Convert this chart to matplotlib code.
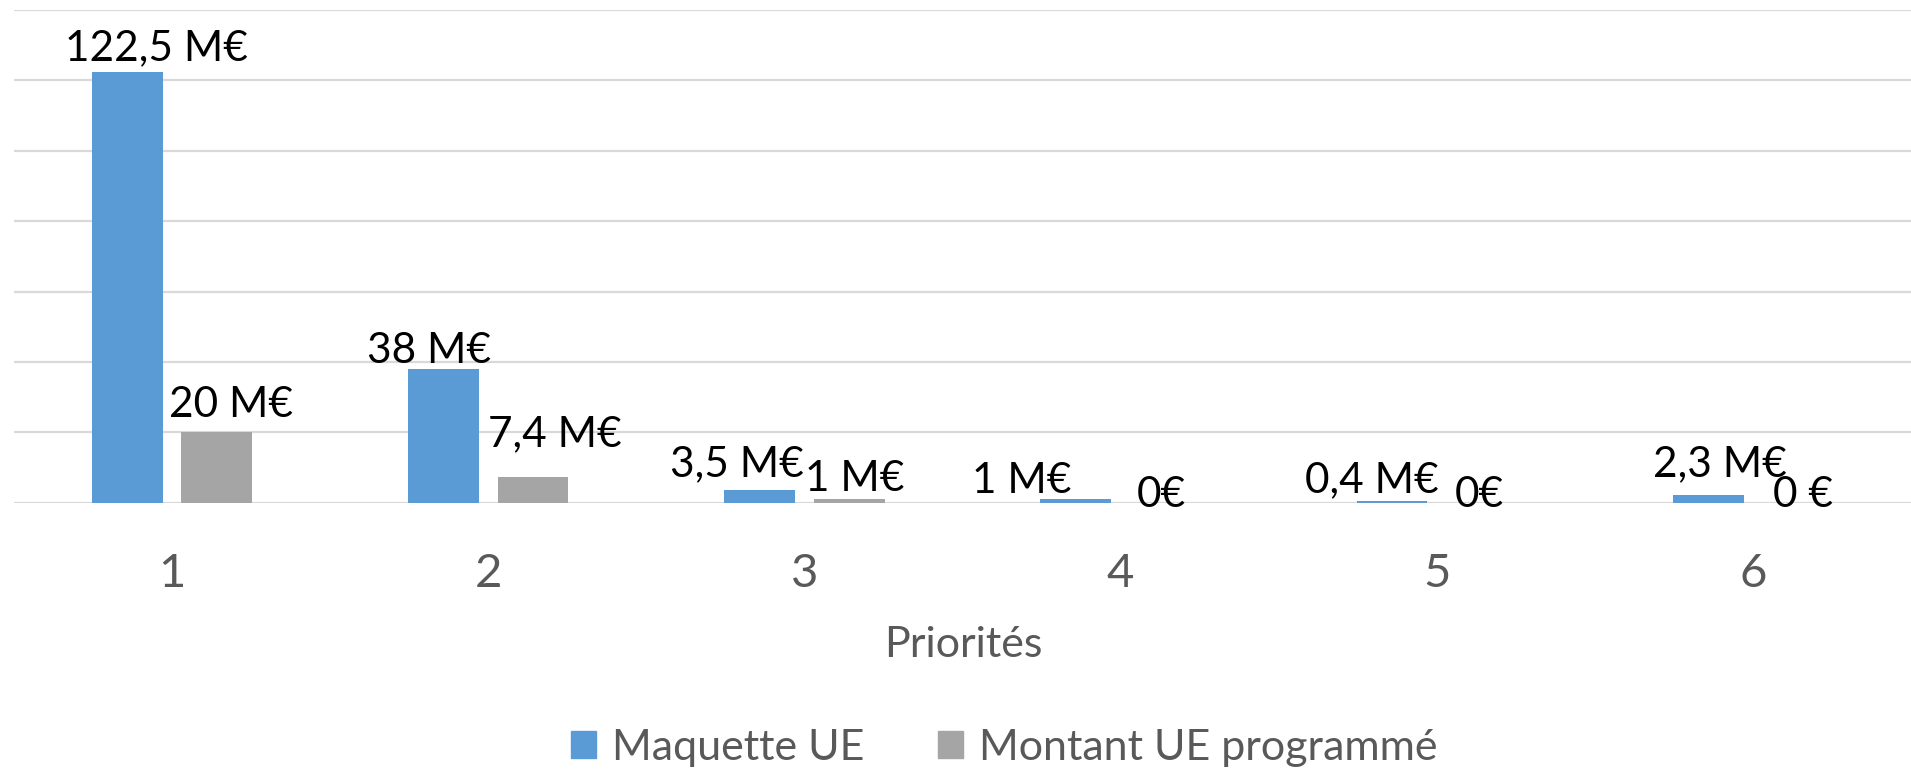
import matplotlib
matplotlib.use("Agg")
import matplotlib.pyplot as plt
import numpy as np

# ---- data ----
categories = ["1", "2", "3", "4", "5", "6"]
series_names = ["Maquette UE", "Montant UE programmé"]
maquette = [122.5, 38, 3.5, 1, 0.4, 2.3]
programme = [20, 7.4, 1, 0, 0, 0]
labels_maquette = ["122,5 M€", "38 M€", "3,5 M€", "1 M€", "0,4 M€", "2,3 M€"]
labels_programme = ["20 M€", "7,4 M€", "1 M€", "0€", "0€", "0 €"]
xlabel = "Priorités"

# ---- label placement (pixel offsets from bar top centre) ----
offs_maquette = [(29.5, 11.5), (-15, 6), (-22.5, 13.7), (-54, 6.5), (-20, 8.6), (12, 18)]
offs_programme = [(14.5, 15.6), (22, 30), (5.5, 8), (-3.7, -4), (-2, -4), (5, -4)]

FONT = "Lato"
BLUE = "#5B9BD5"
GRAY = "#A5A5A5"
TXT = "#595959"
GRID = "#D9D9D9"

W, H = 1911, 773
fig = plt.figure(figsize=(W / 100, H / 100), dpi=100)
ax = fig.add_axes([14 / W, 1 - 502.7 / H, 1 - 14 / W, (502.7 - 10) / H])

x = np.arange(len(categories))
bw = 0.224
off = 0.1415
ax.bar(x - off, maquette, bw, color=BLUE, zorder=3)
ax.bar(x + off, programme, bw, color=GRAY, zorder=3)

ax.set_xlim(-0.5, len(categories) - 0.5)
ax.set_ylim(0, 140)
for v in np.arange(0, 141, 20):
    ax.axhline(v, color=GRID, lw=1.6, zorder=1)
for s in ax.spines.values():
    s.set_visible(False)
ax.set_yticks([])
ax.set_xticks(x)
ax.set_xticklabels(categories, fontsize=34, color=TXT, fontname=FONT)
ax.tick_params(axis="x", length=0, pad=36)

for i in range(len(categories)):
    ax.annotate(labels_maquette[i], xy=(x[i] - off, maquette[i]),
                xytext=offs_maquette[i], textcoords="offset pixels",
                ha="center", va="baseline", fontsize=30.5, fontname=FONT,
                color="black", zorder=5)
    ax.annotate(labels_programme[i], xy=(x[i] + off, programme[i]),
                xytext=offs_programme[i], textcoords="offset pixels",
                ha="center", va="baseline", fontsize=30.5, fontname=FONT,
                color="black", zorder=5)

fig.text(963 / W, 1 - 656.7 / H, xlabel, ha="center", va="baseline",
         fontsize=31, color=TXT, fontname=FONT)

from matplotlib.patches import Patch
handles = [Patch(color=BLUE), Patch(color=GRAY)]
leg = fig.legend(handles, series_names, loc="center",
                 bbox_to_anchor=(1004 / W, 1 - 748 / H), ncol=2, frameon=False,
                 prop={"family": FONT, "size": 31}, handlelength=0.6,
                 handleheight=0.6, handletextpad=0.36, columnspacing=1.7,
                 borderpad=0)
for t in leg.get_texts():
    t.set_color(TXT)

fig.savefig("out.png", dpi=100)
